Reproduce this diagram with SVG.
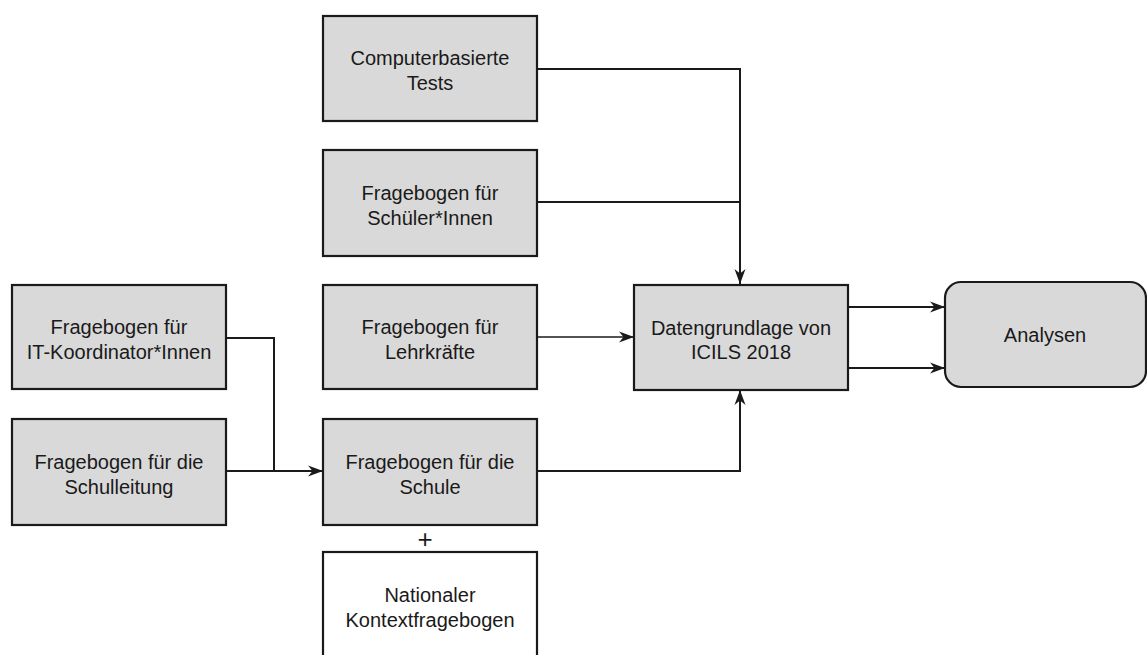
<svg xmlns="http://www.w3.org/2000/svg" width="1147" height="655" viewBox="0 0 1147 655">
<style>
.box{fill:#d9d9d9;stroke:#1a1a1a;stroke-width:2.2}
.wbox{fill:#ffffff;stroke:#1a1a1a;stroke-width:2.2}
.t{font-family:"Liberation Sans",Arial,sans-serif;font-size:20px;fill:#1a1a1a;text-anchor:middle}
.c{fill:none;stroke:#1a1a1a;stroke-width:2}
</style>
<defs>
<marker id="ah" markerUnits="userSpaceOnUse" markerWidth="17" markerHeight="13" refX="15" refY="6" orient="auto">
<path d="M0,0.5 L15,6 L0,11.5 L4.5,6 z" fill="#1a1a1a"/>
</marker>
</defs>
<rect width="1147" height="655" fill="#ffffff"/>
<g id="connectors">
<path class="c" d="M537,69 H740 V284" marker-end="url(#ah)"/>
<path class="c" d="M537,202 H740"/>
<path class="c" style="stroke-width:1.5" d="M537,337 H634" marker-end="url(#ah)"/>
<path class="c" d="M226,338 H274 V471"/>
<path class="c" d="M223,471 H323" marker-end="url(#ah)"/>
<path class="c" d="M537,471 H740 V390" marker-end="url(#ah)"/>
<path class="c" d="M848,307 H945" marker-end="url(#ah)"/>
<path class="c" d="M848,368 H945" marker-end="url(#ah)"/>
</g>
<g id="computer">
<rect class="box" x="323" y="16" width="214" height="105"/>
<text class="t" x="430" y="65">Computerbasierte</text>
<text class="t" x="430" y="90">Tests</text>
</g>
<g id="schueler">
<rect class="box" x="323" y="150" width="214" height="106"/>
<text class="t" x="430" y="200">Fragebogen für</text>
<text class="t" x="430" y="225">Schüler*Innen</text>
</g>
<g id="lehrkraefte">
<rect class="box" x="323" y="285" width="214" height="104"/>
<text class="t" x="430" y="334">Fragebogen für</text>
<text class="t" x="430" y="359">Lehrkräfte</text>
</g>
<g id="schule">
<rect class="box" x="323" y="419" width="214" height="106"/>
<text class="t" x="430" y="469">Fragebogen für die</text>
<text class="t" x="430" y="494">Schule</text>
</g>
<g id="plus">
<text class="t" x="425" y="548" style="font-size:26px">+</text>
</g>
<g id="national">
<rect class="wbox" x="323" y="552" width="214" height="112"/>
<text class="t" x="430" y="602">Nationaler</text>
<text class="t" x="430" y="627">Kontextfragebogen</text>
</g>
<g id="itkoord">
<rect class="box" x="12" y="285" width="214" height="104"/>
<text class="t" x="119" y="334">Fragebogen für</text>
<text class="t" x="119" y="359">IT-Koordinator*Innen</text>
</g>
<g id="schulleitung">
<rect class="box" x="12" y="419" width="214" height="106"/>
<text class="t" x="119" y="469">Fragebogen für die</text>
<text class="t" x="119" y="494">Schulleitung</text>
</g>
<g id="datengrundlage">
<rect class="box" x="634" y="285" width="214" height="105"/>
<text class="t" x="741" y="335">Datengrundlage von</text>
<text class="t" x="741" y="359">ICILS 2018</text>
</g>
<g id="analysen">
<rect class="box" x="945" y="282" width="201" height="105" rx="16" ry="16"/>
<text class="t" x="1045" y="342">Analysen</text>
</g>
</svg>
